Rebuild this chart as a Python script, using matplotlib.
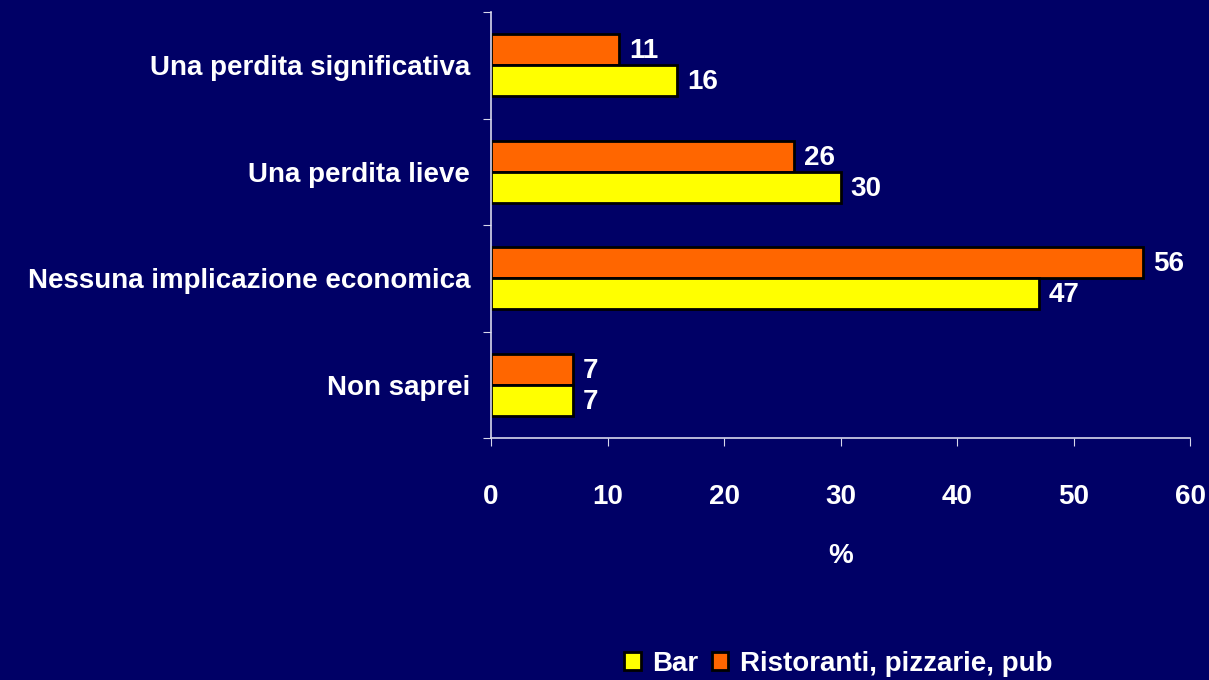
import matplotlib
matplotlib.use("Agg")
import matplotlib.pyplot as plt
import numpy as np

categories = ["Una perdita significativa", "Una perdita lieve",
              "Nessuna implicazione economica", "Non saprei"]
bar_vals = [16, 30, 47, 7]
rist_vals = [11, 26, 56, 7]
series_names = ["Bar", "Ristoranti, pizzarie, pub"]
xticks = [0, 10, 20, 30, 40, 50, 60]

BG = "#000066"
YEL = "#FFFF00"
ORA = "#FF6600"
AX = "#d8d8ec"
FONT = ["Liberation Sans", "DejaVu Sans"]
FS = 20

plt.rcParams['font.family'] = FONT
plt.rcParams['font.weight'] = 'bold'

fig = plt.figure(figsize=(12.09, 6.8), dpi=100, facecolor=BG)
ax = fig.add_axes([491/1209, 1-438/680, (1190-491)/1209, (438-12)/680])
ax.set_facecolor(BG)

y = np.arange(len(categories))
h = 0.29
b1 = ax.barh(y - h/2, rist_vals, height=h, color=ORA, edgecolor="black", linewidth=2, label=series_names[1])
b2 = ax.barh(y + h/2, bar_vals, height=h, color=YEL, edgecolor="black", linewidth=2, label=series_names[0])

for bars, vals in ((b1, rist_vals), (b2, bar_vals)):
    for rect, v in zip(bars, vals):
        ax.annotate(str(v), (rect.get_width(), rect.get_y() + rect.get_height()/2),
                    xytext=(7, -1), textcoords="offset points", va="center", ha="left",
                    color="white", fontsize=FS, fontweight="bold")

ax.set_xlim(0, 60)
ax.set_ylim(len(categories) - 0.5, -0.5)
ax.set_xticks(xticks)
ax.set_xticklabels([str(t) for t in xticks])
ax.set_yticks(np.arange(len(categories) + 1) - 0.5)
ax.set_yticklabels([])
ax.set_yticks(y, minor=True)
ax.set_yticklabels(categories, minor=True)
ax.tick_params(axis="y", which="minor", length=0, pad=15, labelsize=FS, labelcolor="white")
ax.tick_params(axis="y", which="major", length=6, color=AX, direction="out")
ax.tick_params(axis="x", length=6, color=AX, direction="out", pad=27, labelsize=FS, labelcolor="white")
for lab in ax.get_xticklabels() + ax.get_yticklabels(minor=True):
    lab.set_fontweight("bold")

for s in ("top", "right"):
    ax.spines[s].set_visible(False)
for s in ("left", "bottom"):
    ax.spines[s].set_color(AX)
    ax.spines[s].set_linewidth(1.2)

fig.text(841/1209, 1-556/680, "%", color="white", fontsize=FS, fontweight="bold", ha="center", va="center")

leg = fig.legend(handles=[b2, b1], labels=series_names, loc="center", bbox_to_anchor=(838/1209, 1-664/680),
                 ncol=2, frameon=False, fontsize=FS, handlelength=0.6, handleheight=0.6,
                 handletextpad=0.4, columnspacing=0.5, labelcolor="white")
for t in leg.get_texts():
    t.set_fontweight("bold")

fig.savefig("out.png", dpi=100, facecolor=BG)
